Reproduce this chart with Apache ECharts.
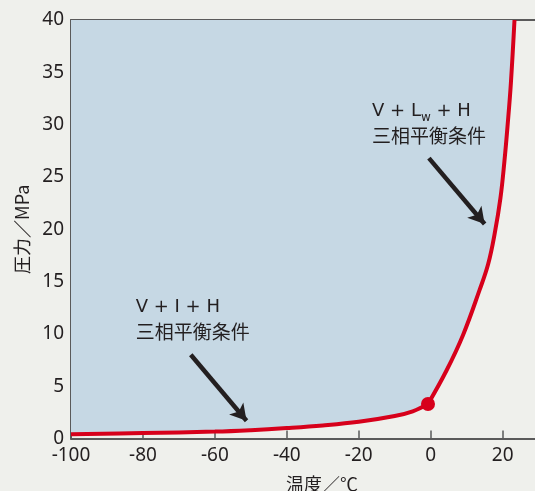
<!DOCTYPE html>
<html>
<head>
<meta charset="utf-8">
<script src="https://cdn.jsdelivr.net/npm/echarts@6/dist/echarts.min.js"></script>
<style>
  html, body { margin: 0; padding: 0; background: #eff0ec; }
  #chart { width: 535px; height: 491px; }
</style>
</head>
<body>
<div id="chart"></div>
<script>
// 温度 (℃) / 圧力 (MPa)
var lowerBranch = [[-100, 0.4], [-80, 0.52], [-60, 0.66], [-50, 0.8], [-40, 1.0], [-30, 1.25], [-20, 1.6], [-10, 2.15], [-5, 2.6], [-0.75, 3.3]];
var upperBranch = [[-0.75, 3.3], [4.4, 6.5], [9, 9.9], [13.6, 14.2], [16, 16.7], [17.8, 19.6], [19.4, 23], [20.5, 26.5], [21.4, 30], [22.3, 34], [23.3, 40]];
var quadPoint = [[-0.75, 3.3]];
var xTicks = [-100, -80, -60, -40, -20, 0, 20];
var yTicks = [0, 5, 10, 15, 20, 25, 30, 35, 40];
var arrows = [
    [[-66.7, 8.0], [-51.2, 1.7]],
    [[-0.5, 26.8], [15.0, 20.5]]
];
var notes = [
    { lines: ['{a|V + I + H}', '{c|三相平衡条件}'], at: [-82, 13.4] },
    { lines: ['{a|V + L}{s|w}{a| + H}', '{c|三相平衡条件}'], at: [-16.3, 32.1] }
];
var xName = '温度／℃', yName = '圧力／MPa';

var red = '#d7001b', fill = '#c6d8e4', ink = '#231f20', axisGray = '#5a5a5a';
var numFont = '"Noto Sans", "DejaVu Sans", sans-serif';
var cjkFont = '"Noto Sans CJK JP", "Noto Sans", sans-serif';

var chart = echarts.init(document.getElementById('chart'), null, { renderer: 'canvas' });

var option = {
    backgroundColor: '#eff0ec',
    animation: false,
    grid: { left: 71, right: 0, top: 20, bottom: 52.5, outerBoundsMode: 'none' },
    xAxis: [{
        type: 'value',
        min: -100,
        max: 29,
        interval: 20,
        name: xName,
        nameLocation: 'middle',
        nameGap: 37,
        nameTextStyle: { fontFamily: cjkFont, fontSize: 18, color: ink, padding: [0, 0, 0, 38] },
        axisLine: { show: true, onZero: false, lineStyle: { color: axisGray, width: 2 } },
        axisTick: { show: true, inside: true, length: 8, customValues: [-80, -60, -40, -20, 0, 20], lineStyle: { color: axisGray, width: 1.5 } },
        axisLabel: { customValues: xTicks, margin: 8, fontFamily: numFont, fontSize: 19, color: ink },
        splitLine: { show: false }
    }, {
        type: 'value',
        position: 'top',
        min: -100,
        max: 29,
        axisLine: { show: true, onZero: false, lineStyle: { color: axisGray, width: 2 } },
        axisTick: { show: false },
        axisLabel: { show: false },
        splitLine: { show: false }
    }],
    yAxis: {
        type: 'value',
        min: 0,
        max: 40,
        interval: 5,
        name: yName,
        nameLocation: 'middle',
        nameGap: 38,
        nameTextStyle: { fontFamily: cjkFont, fontSize: 18, color: ink },
        axisLine: { show: true, onZero: false, lineStyle: { color: axisGray, width: 2 } },
        axisTick: { show: true, inside: true, length: 8, customValues: [5, 10, 15, 20, 25, 30, 35], lineStyle: { color: axisGray, width: 1.5 } },
        axisLabel: { customValues: yTicks, margin: 7, fontFamily: numFont, fontSize: 19, color: ink },
        splitLine: { show: false }
    },
    series: [
        {
            name: 'V + I + H',
            type: 'line',
            smooth: 0.4,
            showSymbol: false,
            data: lowerBranch,
            lineStyle: { color: red, width: 4 },
            areaStyle: { origin: 'end', color: fill, opacity: 1 },
            z: 2
        },
        {
            name: 'V + Lw + H',
            type: 'line',
            smooth: 0.4,
            showSymbol: false,
            data: upperBranch,
            lineStyle: { color: red, width: 4 },
            areaStyle: { origin: 'end', color: fill, opacity: 1 },
            z: 2
        },
        {
            type: 'scatter',
            data: quadPoint,
            symbolSize: 14,
            itemStyle: { color: red, opacity: 1 },
            z: 4,
            markLine: {
                silent: true,
                symbol: ['none', 'arrow'],
                symbolSize: [14, 16],
                label: { show: false },
                lineStyle: { color: ink, width: 4.5, type: 'solid', opacity: 1 },
                data: arrows.map(function (a) {
                    return [{ coord: a[0] }, { coord: a[1] }];
                })
            }
        }
    ]
};
chart.setOption(option);

// annotation texts anchored at data coordinates
chart.setOption({
    graphic: notes.map(function (n) {
        var p = chart.convertToPixel({ gridIndex: 0 }, n.at);
        return {
            type: 'text',
            left: p[0],
            top: p[1],
            z: 10,
            style: {
                text: n.lines.join('\n'),
                fill: ink,
                rich: {
                    a: { fontFamily: '"DejaVu Sans", sans-serif', fontSize: 18, lineHeight: 24, fill: ink },
                    c: { fontFamily: cjkFont, fontSize: 19, lineHeight: 24, fill: ink },
                    s: { fontFamily: '"DejaVu Sans", sans-serif', fontSize: 12, lineHeight: 24, fill: ink, verticalAlign: 'bottom', padding: [7, 0, 0, 0] }
                }
            }
        };
    })
});
</script>
</body>
</html>
